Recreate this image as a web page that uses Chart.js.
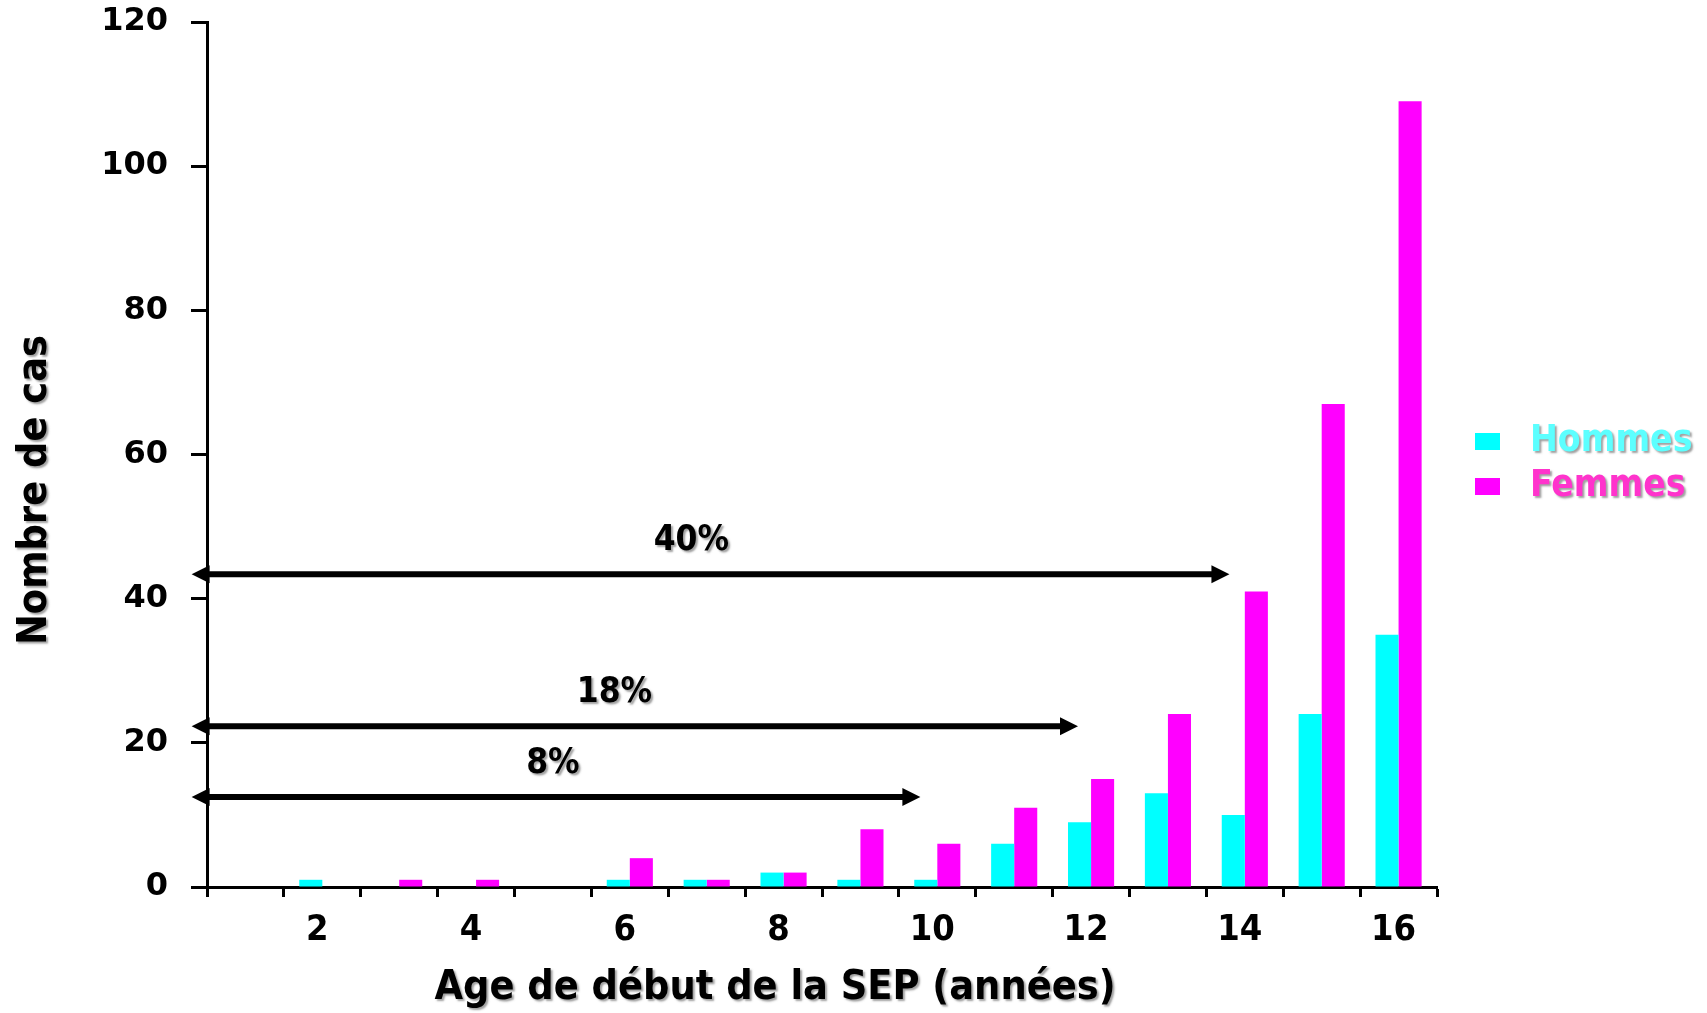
<!DOCTYPE html>
<html>
<head>
<meta charset="utf-8">
<script src="https://cdn.jsdelivr.net/npm/chart.js@4/dist/chart.umd.min.js"></script>
<style>
  html, body { margin: 0; padding: 0; background: #fff; }
</style>
</head>
<body>
<canvas id="myChart" width="1707" height="1013"></canvas>
<script>
// data
var ages = [1, 2, 3, 4, 5, 6, 7, 8, 9, 10, 11, 12, 13, 14, 15, 16];
var tickLabels = ['', '2', '', '4', '', '6', '', '8', '', '10', '', '12', '', '14', '', '16'];
var hommes = [0, 1, 0, 0, 0, 1, 1, 2, 1, 1, 6, 9, 13, 10, 24, 35];
var femmes = [0, 0, 1, 1, 0, 4, 1, 2, 8, 6, 11, 15, 24, 41, 67, 109];

// arrows: level (cases), start / end age, where the % label sits (age)
var arrowTexts = ['40%', '18%', '8%'];
var arrowLevels = [43.4, 22.3, 12.5];
var arrowStart = 0.3;
var arrowEnds = [13.8, 11.83, 9.78];
var arrowTextAt = [6.8, 5.8, 5.0];

var titleFont = "bold 41px 'Comic Sans MS', 'DejaVu Sans Condensed', 'DejaVu Sans', sans-serif";

function shadowText(ctx, txt, x, y, color) {
    ctx.save();
    ctx.shadowColor = 'rgba(120,120,120,0.7)';
    ctx.shadowOffsetX = 2;
    ctx.shadowOffsetY = 2;
    ctx.shadowBlur = 2;
    ctx.fillStyle = color;
    ctx.fillText(txt, x, y);
    ctx.restore();
}

function arrowHead(ctx, x, y, dir) {
    ctx.beginPath();
    ctx.moveTo(x, y);
    ctx.lineTo(x - dir * 18, y - 9);
    ctx.lineTo(x - dir * 18, y + 9);
    ctx.closePath();
    ctx.fill();
}

var annotate = {
    id: 'annotate',
    afterDatasetsDraw: function(chart) {
        var ctx = chart.ctx;
        var xs = chart.scales.x, ys = chart.scales.y;
        ctx.save();
        ctx.strokeStyle = '#000';
        ctx.fillStyle = '#000';
        ctx.lineWidth = 6;
        for (var i = 0; i < arrowTexts.length; i++) {
            var yy = ys.getPixelForValue(arrowLevels[i]);
            var x0 = xs.getPixelForValue(arrowStart - 1);
            var x1 = xs.getPixelForValue(arrowEnds[i] - 1);
            ctx.beginPath();
            ctx.moveTo(x0 + 10, yy);
            ctx.lineTo(x1 - 10, yy);
            ctx.stroke();
            arrowHead(ctx, x0, yy, -1);
            arrowHead(ctx, x1, yy, 1);
            ctx.font = "bold 35px 'Comic Sans MS', 'DejaVu Sans Condensed', 'DejaVu Sans', sans-serif";
            ctx.textAlign = 'center';
            ctx.textBaseline = 'middle';
            shadowText(ctx, arrowTexts[i], xs.getPixelForValue(arrowTextAt[i] - 1), yy - 33, '#000');
        }
        ctx.restore();
    },
    afterDraw: function(chart) {
        var ctx = chart.ctx;
        var area = chart.chartArea;
        ctx.save();
        ctx.font = titleFont;
        ctx.textAlign = 'center';
        ctx.textBaseline = 'middle';
        shadowText(ctx, 'Age de début de la SEP (années)', 775, 988, '#000');
        ctx.save();
        ctx.translate(35, 490);
        ctx.rotate(-Math.PI / 2);
        shadowText(ctx, 'Nombre de cas', 0, 0, '#000');
        ctx.restore();

        // legend
        var sets = chart.data.datasets;
        var textColors = ['#5CFFFF', '#FF33CC'];
        var legendY = [441, 486];
        ctx.font = "bold 37px 'Comic Sans MS', 'DejaVu Sans Condensed', 'DejaVu Sans', sans-serif";
        ctx.textAlign = 'left';
        for (var i = 0; i < sets.length; i++) {
            ctx.fillStyle = sets[i].backgroundColor;
            ctx.fillRect(area.right + 38, legendY[i] - 8, 25, 17);
            shadowText(ctx, sets[i].label, area.right + 93, legendY[i], textColors[i]);
        }
        ctx.restore();
    }
};

var dataObj = {
    type: 'bar',
    data: {
        labels: ages,
        datasets: [{
            label: 'Hommes',
            data: hommes,
            backgroundColor: '#00FFFF',
            categoryPercentage: 0.6,
            barPercentage: 1.0
        }, {
            label: 'Femmes',
            data: femmes,
            backgroundColor: '#FF00FF',
            categoryPercentage: 0.6,
            barPercentage: 1.0
        }]
    },
    options: {
        responsive: false,
        animation: false,
        layout: { padding: { left: 0, right: 270, top: 22, bottom: 0 } },
        plugins: {
            legend: { display: false },
            tooltip: { enabled: false }
        },
        scales: {
            x: {
                offset: true,
                grid: { offset: true, drawOnChartArea: false, tickLength: 10, tickWidth: 3, tickColor: '#000' },
                border: { color: '#000', width: 3 },
                ticks: {
                    autoSkip: false,
                    maxRotation: 0,
                    padding: 12,
                    labelOffset: -5,
                    color: '#000',
                    font: { family: "'Liberation Sans Narrow', 'DejaVu Sans Condensed', sans-serif", size: 36, weight: 'bold' },
                    callback: function(v, i) { return tickLabels[i]; }
                },
                afterFit: function(s) { s.height = 126; }
            },
            y: {
                min: 0,
                max: 120,
                grid: { drawOnChartArea: false, tickLength: 16, tickWidth: 3, tickColor: '#000' },
                border: { color: '#000', width: 3 },
                ticks: {
                    stepSize: 20,
                    padding: 23,
                    color: '#000',
                    font: { family: "'DejaVu Sans', sans-serif", size: 32, weight: 'bold' }
                },
                afterFit: function(s) {
                    s.width = 207;
                    s.paddingTop = 0;
                    s.paddingBottom = 0;
                }
            }
        }
    },
    plugins: [annotate]
};

var ctx = document.getElementById('myChart').getContext('2d');
window.myBar = new Chart(ctx, dataObj);
</script>
</body>
</html>
